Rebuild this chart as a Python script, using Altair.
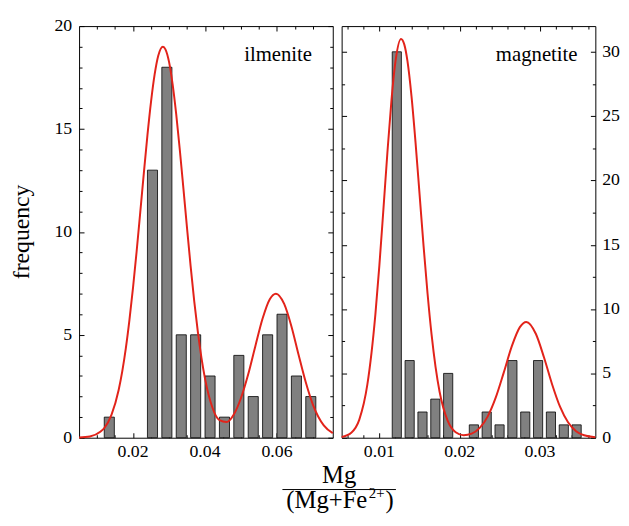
import altair as alt
import pandas as pd

# ---------------- data ----------------
# ilmenite histogram (bin start, count)
ilm_bin_start = [0.012, 0.024, 0.028, 0.032, 0.036, 0.040, 0.044, 0.048, 0.052, 0.056, 0.060, 0.064, 0.068]
ilm_counts = [1, 13, 18, 5, 5, 3, 1, 4, 2, 5, 6, 3, 2]
ilm_bar_width = 0.0028

# ilmenite fitted curve
ilm_fit_x = [0.005, 0.008, 0.011, 0.012, 0.014, 0.016, 0.017, 0.018, 0.019, 0.020,
             0.021, 0.022, 0.023, 0.024, 0.025, 0.026, 0.027, 0.0283, 0.029, 0.030,
             0.031, 0.032, 0.033, 0.034, 0.035, 0.036, 0.037, 0.038, 0.039, 0.040,
             0.042, 0.044, 0.046, 0.048, 0.050, 0.052, 0.054, 0.056, 0.058, 0.0597,
             0.062, 0.064, 0.066, 0.068, 0.070, 0.073, 0.0755]
ilm_fit_y = [0.01, 0.06, 0.30, 0.47, 1.11, 2.32, 3.22, 4.35, 5.72, 7.30,
             9.06, 10.95, 12.86, 14.70, 16.33, 17.65, 18.56, 19.0, 18.87, 18.26,
             17.17, 15.71, 13.98, 12.10, 10.19, 8.34, 6.64, 5.15, 3.89, 2.87,
             1.49, 0.85, 0.76, 1.13, 1.93, 3.08, 4.46, 5.79, 6.73, 7.0,
             6.50, 5.42, 4.03, 2.69, 1.60, 0.60, 0.22]

# magnetite histogram
mag_bin_start = [0.0116, 0.0132, 0.0148, 0.0164, 0.0180, 0.0212, 0.0228, 0.0244,
                 0.0260, 0.0276, 0.0292, 0.0308, 0.0324, 0.0340]
mag_counts = [30, 6, 2, 3, 5, 1, 2, 1, 6, 2, 6, 2, 1, 1]
mag_bar_width = 0.00114

mag_fit_x = [0.0053, 0.0065, 0.0075, 0.0085, 0.0095, 0.0100, 0.0105, 0.0110, 0.0115, 0.0120,
             0.0127, 0.0131, 0.0135, 0.0140, 0.0145, 0.0150, 0.0155, 0.0160, 0.0165, 0.0170,
             0.0175, 0.0185, 0.0195, 0.0205, 0.0215, 0.0225, 0.0235, 0.0245, 0.0255, 0.0265,
             0.0275, 0.0283, 0.0295, 0.0305, 0.0315, 0.0325, 0.0335, 0.0345, 0.0355, 0.0369]
mag_fit_y = [0.06, 0.39, 1.41, 4.12, 9.57, 13.4, 17.73, 22.17, 26.19, 29.23,
             31.0, 30.58, 29.27, 26.55, 22.98, 18.97, 14.93, 11.21, 8.03, 5.49,
             3.57, 1.33, 0.43, 0.20, 0.32, 0.76, 1.66, 3.13, 5.08, 7.12,
             8.60, 9.0, 8.06, 6.25, 4.18, 2.41, 1.20, 0.51, 0.19, 0.04]

# axes
ilm_x_domain = [0.005, 0.0755]
ilm_y_domain = [0, 20]
ilm_x_major = [0.02, 0.04, 0.06]
ilm_x_minor = [0.01, 0.015, 0.025, 0.03, 0.035, 0.045, 0.05, 0.055, 0.065, 0.07]
ilm_y_major = [0, 5, 10, 15, 20]
ilm_y_minor = [1, 2, 3, 4, 6, 7, 8, 9, 11, 12, 13, 14, 16, 17, 18, 19]

mag_x_domain = [0.0053, 0.0369]
mag_y_domain = [0, 32]
mag_x_major = [0.01, 0.02, 0.03]
mag_x_minor = [0.006, 0.008, 0.012, 0.014, 0.016, 0.018, 0.022, 0.024, 0.026,
               0.028, 0.032, 0.034, 0.036]
mag_y_major = [0, 5, 10, 15, 20, 25, 30]
mag_y_minor = [2.5, 7.5, 12.5, 17.5, 22.5, 27.5]

panel_names = ["ilmenite", "magnetite"]
y_title = "frequency"
x_title_num = "Mg"
x_title_den = "(Mg+Fe"
x_title_sup = "2+"
x_title_close = ")"

# ---------------- styling ----------------
FONT = "Liberation Serif"
RED = "#e2231a"
GREY = "#808080"
W, H = 257, 417
MAJOR, MINOR = 5, 3
TXT = dict(font=FONT, color="black")


def tick_axis(orient, values, length):
    return alt.Axis(orient=orient, values=values, tickSize=alt.ExprRef(expr=str(-length)),
                    labels=False, domain=False, grid=False, ticks=True, tickWidth=1,
                    tickColor="black", title=None)


def panel(bin_start, counts, bw, fx, fy, xdom, ydom, xmaj, xmin, ymaj, ymin,
          side, name, name_x):
    other = "right" if side == "left" else "left"
    bins = pd.DataFrame({"x0": bin_start, "n": counts})
    bins["x1"] = bins["x0"] + bw
    bins["base"] = 0
    fit = pd.DataFrame({"fx": fx, "fy": fy})
    xs = alt.Scale(domain=xdom, nice=False, zero=False)
    ys = alt.Scale(domain=ydom, nice=False, zero=True)

    bars = alt.Chart(bins).mark_bar(color=GREY, stroke="black", strokeWidth=0.8).encode(
        x=alt.X("x0:Q", scale=xs, axis=tick_axis("bottom", xmaj, MAJOR)),
        x2="x1:Q",
        y=alt.Y("n:Q", scale=ys, axis=tick_axis(side, ymaj, MAJOR)),
        y2="base:Q",
    )
    curve = alt.Chart(fit).mark_line(color=RED, strokeWidth=2, interpolate="monotone").encode(
        x=alt.X("fx:Q", scale=xs, axis=tick_axis("top", xmaj, MAJOR)),
        y=alt.Y("fy:Q", scale=ys, axis=tick_axis(other, ymaj, MAJOR)),
    )
    inv1 = alt.Chart(fit).mark_point(opacity=0).encode(
        x=alt.X("fx:Q", scale=xs, axis=tick_axis("bottom", xmin, MINOR)),
        y=alt.Y("fy:Q", scale=ys, axis=tick_axis(side, ymin, MINOR)),
    )
    inv2 = alt.Chart(fit).mark_point(opacity=0).encode(
        x=alt.X("fx:Q", scale=xs, axis=tick_axis("top", xmin, MINOR)),
        y=alt.Y("fy:Q", scale=ys, axis=tick_axis(other, ymin, MINOR)),
    )
    # tick labels, placed through the panel's own scales
    xlab = alt.Chart(pd.DataFrame({"v": xmaj})).mark_text(
        fontSize=18, align="center", baseline="middle", **TXT).encode(
        x=alt.X("v:Q", scale=xs, axis=None),
        y=alt.value(H + 15),
        text=alt.Text("v:Q", format=".2f"))
    if side == "left":
        ylab_x, ylab_align = -7, "right"
    else:
        ylab_x, ylab_align = W + 7, "left"
    ylab = alt.Chart(pd.DataFrame({"v": ymaj})).mark_text(
        fontSize=18, align=ylab_align, baseline="middle", **TXT).encode(
        y=alt.Y("v:Q", scale=ys, axis=None),
        x=alt.value(ylab_x),
        text=alt.Text("v:Q", format="d"))
    label = alt.Chart(pd.DataFrame({"t": [name]})).mark_text(
        fontSize=21, align="right", baseline="alphabetic", **TXT
    ).encode(text="t:N", x=alt.value(name_x), y=alt.value(35))
    return [bars, curve, inv1, inv2, xlab, ylab, label]


left_layers = panel(ilm_bin_start, ilm_counts, ilm_bar_width, ilm_fit_x, ilm_fit_y,
                    ilm_x_domain, ilm_y_domain, ilm_x_major, ilm_x_minor, ilm_y_major, ilm_y_minor,
                    "left", panel_names[0], 236)

ytitle = alt.Chart(pd.DataFrame({"t": [y_title]})).mark_text(
    fontSize=24, angle=270, align="center", baseline="middle", **TXT).encode(
    text="t:N", x=alt.value(-57.5), y=alt.value(H / 2))

# x-axis title as a fraction, centred under both panels
num = alt.Chart(pd.DataFrame({"t": [x_title_num]})).mark_text(
    fontSize=25, align="center", baseline="alphabetic", **TXT).encode(
    text="t:N", x=alt.value(263.5), y=alt.value(462.5))
bar_line = alt.Chart(pd.DataFrame({"t": [0]})).mark_rule(color="black", strokeWidth=1).encode(
    x=alt.value(206), x2=alt.value(321), y=alt.value(469.5))
den = alt.Chart(pd.DataFrame({"t": [x_title_den]})).mark_text(
    fontSize=25, align="right", baseline="alphabetic", **TXT).encode(
    text="t:N", x=alt.value(292), y=alt.value(488))
sup = alt.Chart(pd.DataFrame({"t": [x_title_sup]})).mark_text(
    fontSize=15, align="left", baseline="alphabetic", **TXT).encode(
    text="t:N", x=alt.value(293.5), y=alt.value(478))
close = alt.Chart(pd.DataFrame({"t": [x_title_close]})).mark_text(
    fontSize=25, align="left", baseline="alphabetic", **TXT).encode(
    text="t:N", x=alt.value(310.5), y=alt.value(488))

left = alt.layer(*left_layers, ytitle, num, bar_line, den, sup, close).resolve_axis(
    x="independent", y="independent").properties(width=W, height=H)

right_layers = panel(mag_bin_start, mag_counts, mag_bar_width, mag_fit_x, mag_fit_y,
                     mag_x_domain, mag_y_domain, mag_x_major, mag_x_minor, mag_y_major, mag_y_minor,
                     "right", panel_names[1], 239)
right = alt.layer(*right_layers).resolve_axis(
    x="independent", y="independent").properties(width=W, height=H)

chart = alt.hconcat(left, right, spacing=9, bounds="flush").properties(
    padding={"left": 2, "top": 5, "right": 0, "bottom": 0}
).configure_view(stroke="black", strokeWidth=1).configure_text(font=FONT)

chart.save("out.html", embed_options={"renderer": "svg", "actions": False})
